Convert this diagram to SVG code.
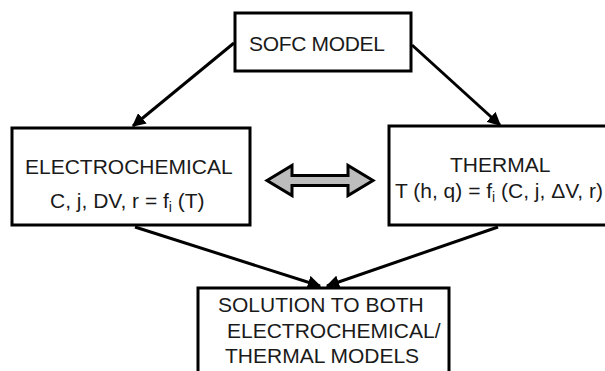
<svg xmlns="http://www.w3.org/2000/svg" width="605" height="371" viewBox="0 0 605 371">
<defs>
<style>
.box{fill:#fff;stroke:#000;stroke-width:3}
.t{font-family:"Liberation Sans",Arial,sans-serif;font-size:21px;fill:#1a1a1a}
.c{stroke:#000;stroke-width:3;fill:none}
.sub{font-size:14px}
</style>
<marker id="ah" viewBox="0 0 10 10" refX="9" refY="5" markerWidth="4.5" markerHeight="4.5" orient="auto" markerUnits="strokeWidth">
<path d="M0,0 L10,5 L0,10 z" fill="#000"/>
</marker>
</defs>
<rect width="605" height="371" fill="#fff"/>
<g id="connectors">
<line class="c" x1="234" y1="43" x2="133" y2="126" marker-end="url(#ah)"/>
<line class="c" x1="412" y1="45" x2="500" y2="125" marker-end="url(#ah)"/>
<line class="c" x1="135" y1="227" x2="320" y2="286" marker-end="url(#ah)"/>
<line class="c" x1="498" y1="227" x2="327" y2="286" marker-end="url(#ah)"/>
<path id="double-arrow" d="M267,180.5 L292,165.5 L292,175.5 L348,175.5 L348,165.5 L373,180.5 L348,195.5 L348,185.5 L292,185.5 L292,195.5 Z" fill="#bdbdbd" stroke="#000" stroke-width="3" stroke-linejoin="miter"/>
</g>
<g id="sofc">
<rect class="box" x="235" y="13" width="176" height="58"/>
<text class="t" x="249" y="51" textLength="136">SOFC MODEL</text>
</g>
<g id="electrochemical">
<rect class="box" x="12" y="128" width="238" height="97"/>
<text class="t" x="25" y="174">ELECTROCHEMICAL</text>
<text class="t" x="50" y="208">C, j, DV, r = f<tspan class="sub" dy="4">i</tspan><tspan dy="-4"> (T)</tspan></text>
</g>
<g id="thermal">
<rect class="box" x="389" y="126" width="240" height="99"/>
<text class="t" x="450" y="172">THERMAL</text>
<text class="t" x="395" y="198">T (h, q) = f<tspan class="sub" dy="4">i</tspan><tspan dy="-4"> (C, j, ΔV, r)</tspan></text>
</g>
<g id="solution">
<rect class="box" x="198" y="288" width="251" height="95"/>
<text class="t" x="218" y="312">SOLUTION TO BOTH</text>
<text class="t" x="227" y="338">ELECTROCHEMICAL/</text>
<text class="t" x="225" y="363">THERMAL MODELS</text>
</g>
</svg>
